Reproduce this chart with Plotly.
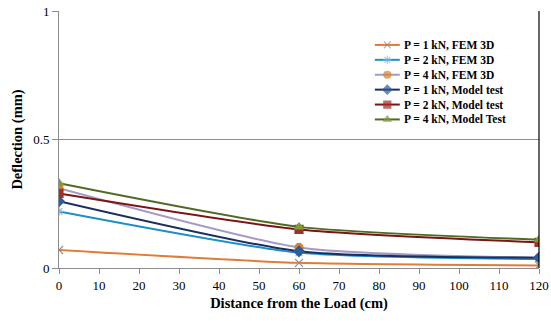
import plotly.graph_objects as go

distance = [0, 60, 120]
fem_1kN = [0.07, 0.02, 0.01]
fem_2kN = [0.22, 0.06, 0.035]
fem_4kN = [0.31, 0.08, 0.04]
model_1kN = [0.26, 0.065, 0.04]
model_2kN = [0.29, 0.15, 0.10]
model_4kN = [0.33, 0.16, 0.11]

series = [
    ("P = 1 kN, FEM 3D", fem_1kN, "#E07B39", "x-thin-open", "#8C8C8C", 8),
    ("P = 2 kN, FEM 3D", fem_2kN, "#1E8FC6", "asterisk-open", "#8CB4D2", 8),
    ("P = 4 kN, FEM 3D", fem_4kN, "#A49AC6", "circle", "#D9822B", 8),
    ("P = 1 kN, Model test", model_1kN, "#1B2F5E", "diamond", "#2A5D9A", 8),
    ("P = 2 kN, Model test", model_2kN, "#7A1515", "square", "#A1302A", 8),
    ("P = 4 kN, Model Test", model_4kN, "#4F6B22", "triangle-up", "#7D9D3B", 8),
]

serif = "Liberation Serif, Times New Roman, serif"
fig = go.Figure()

# legend geometry (paper fractions of plot area)
LX0, LX1, LTX = 0.658, 0.710, 0.714
LY0, LDY = 0.868, 0.058

for i, (name, vals, lc, sym, mc, ms) in enumerate(series):
    fig.add_trace(go.Scatter(
        x=distance, y=vals, name=name, mode="lines+markers", showlegend=False,
        line=dict(color=lc, width=2, shape="spline", smoothing=0.6),
        marker=dict(symbol=sym, color=mc, size=ms,
                    line=dict(color=mc, width=1.2)),
    ))
    ly = LY0 - i * LDY
    fig.add_trace(go.Scatter(
        x=[LX0, (LX0 + LX1) / 2, LX1], y=[ly, ly, ly], xaxis="x2", yaxis="y2",
        mode="lines+markers", showlegend=False, hoverinfo="skip",
        line=dict(color=lc, width=2),
        marker=dict(symbol=sym, color=mc, size=[0, 7, 0],
                    line=dict(color=mc, width=1.2)),
    ))
    fig.add_annotation(x=LTX, y=ly, xref="paper", yref="paper", text="<b>%s</b>" % name,
                       showarrow=False, xanchor="left", yanchor="middle",
                       font=dict(family=serif, size=11.5, color="black"))

fig.update_layout(
    width=551, height=321,
    margin=dict(l=59, r=12, t=11, b=53),
    paper_bgcolor="white", plot_bgcolor="white",
    font=dict(family=serif, color="black", size=13),
    showlegend=False,
    xaxis=dict(range=[0, 120], dtick=10, tick0=0, showgrid=False, automargin=False,
               showline=True, linecolor="#8C8C8C", linewidth=1,
               ticks="outside", ticklen=5, tickcolor="#8C8C8C",
               zeroline=False,
               title=dict(text="<b>Distance from the Load (cm)</b>",
                          font=dict(size=14.5, family=serif), standoff=6)),
    yaxis=dict(range=[0, 1], dtick=0.5, tick0=0, showgrid=True, automargin=False,
               gridcolor="#8C8C8C", gridwidth=1,
               showline=True, linecolor="#8C8C8C", linewidth=1,
               ticks="outside", ticklen=6, tickcolor="#8C8C8C",
               zeroline=False,
               title=dict(text="<b>Deflection (mm)</b>",
                          font=dict(size=14.5, family=serif), standoff=7)),
    xaxis2=dict(range=[0, 1], overlaying="x", visible=False, automargin=False),
    yaxis2=dict(range=[0, 1], overlaying="y", visible=False, automargin=False),
)
fig.add_shape(type="line", xref="paper", yref="paper", x0=1, x1=1, y0=0, y1=1,
              line=dict(color="black", width=1.2))
fig.write_html("out.html", config={"displayModeBar": False},
               post_script="document.body.style.margin='0';document.body.style.padding='0';")
